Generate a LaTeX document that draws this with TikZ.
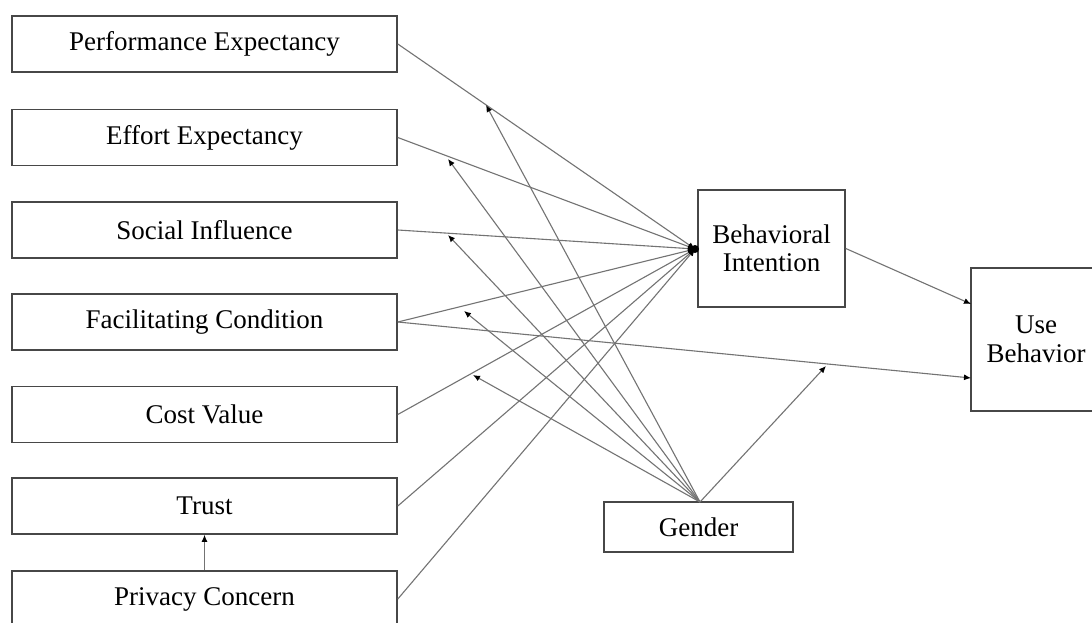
\documentclass[tikz,border=0pt]{standalone}
\usepackage{fontspec}
\setmainfont{Liberation Serif}
\usetikzlibrary{arrows.meta}
\begin{document}
\begin{tikzpicture}[x=1pt,y=-1pt,
  box/.style={draw=black!72,line width=1.6pt,fill=white,inner sep=0pt,align=center,
    font=\fontsize{27}{28.5}\selectfont},
  lbox/.style={box,minimum width=385pt,minimum height=56pt},
  conn/.style={draw=black!55,line width=1.1pt,-{Latex[length=7pt,width=6pt,color=black]}}]
\useasboundingbox (0,0) rectangle (1092,623);
\clip (0,0) rectangle (1092,623);
\fill[white] (0,0) rectangle (1092,623);
% left boxes
\node[lbox] (pe) at (204.5,44) {Performance Expectancy};
\node[lbox] (ee) at (204.5,137.5) {Effort Expectancy};
\node[lbox] (si) at (204.5,230) {Social Influence};
\node[lbox] (fc) at (204.5,322) {Facilitating Condition};
\node[lbox] (cv) at (204.5,414.5) {Cost Value};
\node[lbox] (tr) at (204.5,506) {Trust};
\node[lbox] (pc) at (204.5,599) {Privacy Concern};
% right boxes
\node[box,minimum width=147pt,minimum height=117pt] (bi) at (771.5,248.5) {Behavioral\\Intention};
\node[box,minimum width=130pt,minimum height=143pt] (ub) at (1036,339.5) {Use\\Behavior};
\node[box,minimum width=189pt,minimum height=50pt] (ge) at (698.5,527) {Gender};
% coordinates
\coordinate (bin) at (695,249);
\coordinate (ub1) at (971,304);
\coordinate (ub2) at (971,378);
\coordinate (m1) at (486,105);
\coordinate (m2) at (448,159);
\coordinate (m3) at (448,235);
\coordinate (m4) at (464,311);
\coordinate (m5) at (473,375);
\coordinate (m6) at (826,366);
\coordinate (gt) at (700,502);
% connectors to BI
\foreach \n in {pe,ee,si,fc,cv,tr,pc}
  \draw[conn] (\n.east) -- (bin);
\fill[black] (bin) circle (4pt);
% BI to UB, FC to UB
\draw[conn] (bi.east) -- (ub1);
\draw[conn] (fc.east) -- (ub2);
% gender moderations
\foreach \m in {m1,m2,m3,m4,m5,m6}
  \draw[conn] (gt) -- (\m);
% privacy to trust
\draw[conn] (pc.north) -- (tr.south);
\end{tikzpicture}
\end{document}
